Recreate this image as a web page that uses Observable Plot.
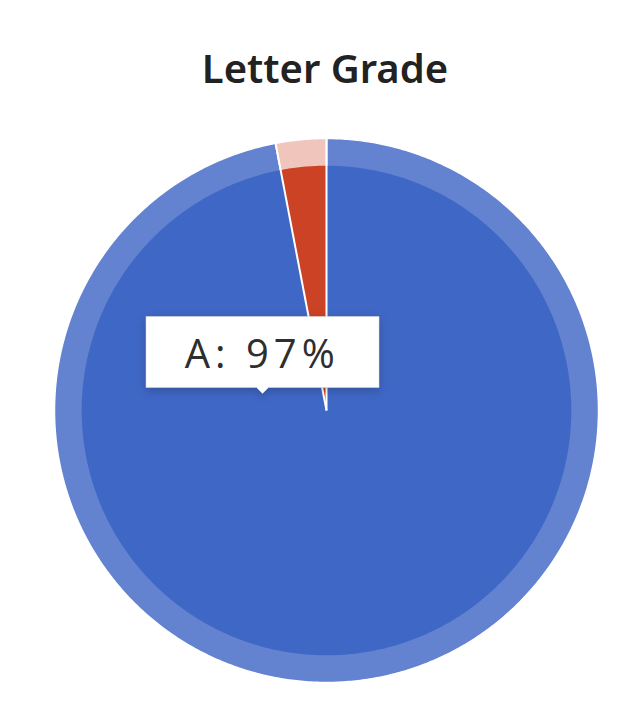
<!DOCTYPE html>
<html><head><meta charset="utf-8">
<script src="https://cdn.jsdelivr.net/npm/d3@7"></script>
<script src="https://cdn.jsdelivr.net/npm/@observablehq/plot@0.6"></script>
<style>
body{margin:0;background:#fff;}
#title{height:110px;box-sizing:border-box;padding-top:48px;padding-left:18px;text-align:center;font:600 40px "Noto Sans",sans-serif;line-height:1;color:#222;}
#chart svg g[aria-label=tip] text{letter-spacing:5px;fill:#2e2e2e;}
</style></head><body>
<div id="title">Letter Grade</div>
<div id="chart"></div>
<script>
const categories = ["A", "B"];
const values = [97, 3];
const sliceColors = ["#3f67c5", "#cc4224"];
const ringColors = ["#6383d1", "#f0c5bb"];
const innerRadius = 0.9;
const hover = {category: "A", angle: 284.7, r: 0.245};

const arcs = d3.pie().sort(null)(values);
function slicePoints(rad, palette, tag) {
  const pts = [];
  arcs.forEach((a, i) => {
    const key = tag + categories[i];
    pts.push({key, x: 0, y: 0, color: palette[i]});
    const n = Math.max(2, Math.ceil((a.endAngle - a.startAngle) / (Math.PI / 360)));
    for (let k = 0; k <= n; k++) {
      const t = a.startAngle + (a.endAngle - a.startAngle) * k / n;
      pts.push({key, x: rad * Math.sin(t), y: rad * Math.cos(t), color: palette[i]});
    }
    pts.push({key, x: 0, y: 0, color: palette[i]});
  });
  return pts;
}
const ringPts = slicePoints(1, ringColors, "ring-");
const innerPts = slicePoints(innerRadius, sliceColors, "inner-");
const rad = d => d * Math.PI / 180;

const chart = Plot.plot({
  width: 632,
  height: 600,
  marginLeft: 54, marginRight: 34, marginTop: 28, marginBottom: 28,
  x: {domain: [-1, 1], axis: null},
  y: {domain: [-1, 1], axis: null},
  color: {type: "identity"},
  marks: [
    Plot.line(ringPts, {x: "x", y: "y", z: "key", fill: "color", stroke: "white", strokeWidth: 1.5, curve: "linear"}),
    Plot.line(innerPts, {x: "x", y: "y", z: "key", fill: "color", stroke: "none", curve: "linear"}),
    Plot.link(arcs, {x1: 0, y1: 0, x2: d => Math.sin(d.startAngle), y2: d => Math.cos(d.startAngle), stroke: "white", strokeWidth: 2}),
    Plot.tip([hover], {
      x: d => d.r * Math.sin(rad(d.angle)),
      y: d => d.r * Math.cos(rad(d.angle)),
      title: d => `\u00a0\u00a0${d.category}: ${values[categories.indexOf(d.category)]}%\u00a0\u00a0`,
      anchor: "bottom",
      fontSize: 40,
      fontFamily: "Open Sans, sans-serif",
      fontWeight: 400,
      textPadding: 8,
      pointerSize: 12,
      fill: "white",
      stroke: "#d6d6d6",
      strokeWidth: 0.6
    })
  ]
});
document.getElementById("chart").append(chart);
</script>
</body></html>
